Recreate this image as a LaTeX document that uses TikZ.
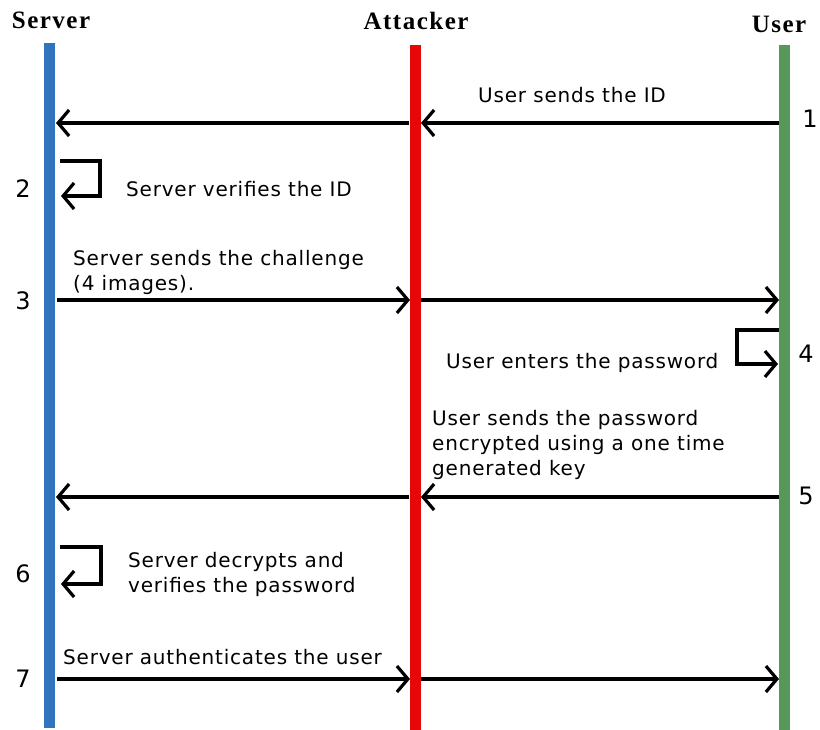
\documentclass[tikz,border=0pt]{standalone}
\usepackage{fontspec}
\setmainfont{DejaVu Sans}
\newfontfamily\labelfont[LetterSpace=4]{DejaVu Sans}
\newfontfamily\headfont[LetterSpace=6]{Liberation Serif}
\usetikzlibrary{arrows.meta}
\definecolor{servercol}{RGB}{49,115,188}
\definecolor{attackcol}{RGB}{230,8,8}
\definecolor{usercol}{RGB}{85,152,90}
\begin{document}
\begin{tikzpicture}[x=1pt,y=-1pt,
  lifeline/.style={line width=10.5pt},
  msg/.style={line width=3.2pt,-{Straight Barb[length=11pt,width=26pt]}},
  head/.style={font=\headfont\bfseries\fontsize{25}{30}\selectfont,anchor=base,inner sep=0pt},
  lbl/.style={font=\labelfont\fontsize{20}{25}\selectfont,anchor=base west,align=left,inner sep=0pt},
  num/.style={font=\fontsize{24}{28}\selectfont,inner sep=0pt}]
\useasboundingbox[fill=white] (0,0) rectangle (820,730);

% participants
\node[head] (hserver) at (51,29) {Server};
\node[head] (hattack) at (416,30) {Attacker};
\node[head] (huser)   at (779,33) {User};

% lifelines
\coordinate (stop) at (49.5,43);  \coordinate (sbot) at (49.5,728);
\coordinate (atop) at (415.5,45); \coordinate (abot) at (415.5,730);
\coordinate (utop) at (784.5,45); \coordinate (ubot) at (784.5,730);
\draw[lifeline,servercol] (stop) -- (sbot);
\draw[lifeline,attackcol] (atop) -- (abot);
\draw[lifeline,usercol]   (utop) -- (ubot);

% message end points on the lifelines
\coordinate (S1) at (56,123);  \coordinate (A1l) at (409,123);
\coordinate (A1r) at (421,123); \coordinate (U1) at (779,123);
\coordinate (S2a) at (60,161);  \coordinate (S2b) at (61,196);
\coordinate (S3) at (57,300);  \coordinate (A3l) at (410,300);
\coordinate (A3r) at (421,300); \coordinate (U3) at (779,300);
\coordinate (U4a) at (779,330); \coordinate (U4b) at (778,364);
\coordinate (S5) at (56,497);  \coordinate (A5l) at (409,497);
\coordinate (A5r) at (421,497); \coordinate (U5) at (779,497);
\coordinate (S6a) at (60,547);  \coordinate (S6b) at (61,584);
\coordinate (S7) at (57,679);  \coordinate (A7l) at (410,679);
\coordinate (A7r) at (421,679); \coordinate (U7) at (779,679);

% 1: user sends the ID
\draw[msg] (U1) -- (A1r);
\draw[msg] (A1l) -- (S1);
\node[lbl] (l1) at (478,103) {User sends the ID};
\node[num] (n1) at (810,119) {1};

% 2: server verifies the ID
\draw[msg] (S2a) -- ++(40,0) |- (S2b);
\node[lbl] (l2) at (126,197) {Server verifies the ID};
\node[num] (n2) at (23,189) {2};

% 3: server sends the challenge
\draw[msg] (S3) -- (A3l);
\draw[msg] (A3r) -- (U3);
\node[lbl] (l3) at (73,291) {Server sends the challenge\\(4 images).};
\node[num] (n3) at (23,301) {3};

% 4: user enters the password
\draw[msg] (U4a) -- ++(-42,0) |- (U4b);
\node[lbl] (l4) at (446,368) {User enters the password};
\node[num] (n4) at (806,354) {4};

% 5: user sends the encrypted password
\draw[msg] (U5) -- (A5r);
\draw[msg] (A5l) -- (S5);
\node[lbl] (l5) at (432,475) {User sends the password\\encrypted using a one time\\generated key};
\node[num] (n5) at (806,496) {5};

% 6: server decrypts and verifies
\draw[msg] (S6a) -- ++(41,0) |- (S6b);
\node[lbl] (l6) at (128,592) {Server decrypts and\\verifies the password};
\node[num] (n6) at (23,574) {6};

% 7: server authenticates the user
\draw[msg] (S7) -- (A7l);
\draw[msg] (A7r) -- (U7);
\node[lbl] (l7) at (63,664) {Server authenticates the user};
\node[num] (n7) at (23,679) {7};
\end{tikzpicture}
\end{document}
